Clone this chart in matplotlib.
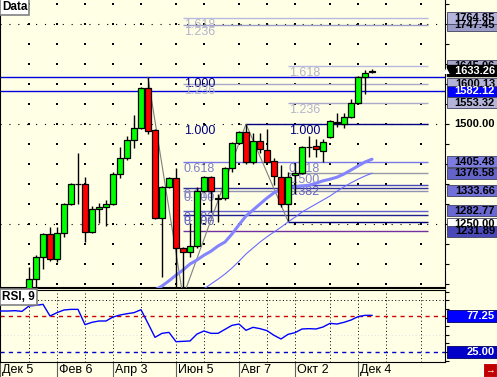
import matplotlib
matplotlib.use("Agg")
import matplotlib.pyplot as plt
import matplotlib.transforms as mtransforms
from matplotlib.patches import Rectangle

plt.rcParams['font.family'] = ['Liberation Sans', 'DejaVu Sans']

# weekly bars, week 0 = Dec 5
weeks = list(range(5, 55))
opens = [1080, 1112, 1167, 1225, 1162, 1227, 1300, 1350, 1350, 1230, 1287, 1292, 1300, 1375, 1415,
         1460, 1490, 1590, 1485, 1265, 1342, 1365, 1190, 1180, 1195, 1332, 1367, 1312, 1315, 1390,
         1452, 1480, 1405, 1457, 1435, 1407, 1367, 1300, 1372, 1377, 1442, 1445, 1432, 1467, 1502,
         1500, 1517, 1552, 1617, 1630]
highs = [1142, 1172, 1227, 1242, 1242, 1302, 1352, 1427, 1367, 1295, 1302, 1310, 1380, 1442, 1470,
         1522, 1592, 1617, 1487, 1345, 1367, 1390, 1192, 1252, 1342, 1370, 1370, 1325, 1393, 1455,
         1482, 1500, 1477, 1477, 1487, 1415, 1397, 1380, 1402, 1445, 1470, 1462, 1462, 1510, 1527,
         1527, 1562, 1620, 1635, 1638]
lows = [1070, 1085, 1137, 1157, 1155, 1217, 1298, 1300, 1205, 1227, 1252, 1245, 1298, 1365, 1410,
        1440, 1488, 1475, 1262, 1117, 1340, 1075, 1068, 1167, 1190, 1330, 1280, 1255, 1310, 1380,
        1450, 1400, 1400, 1427, 1402, 1347, 1292, 1257, 1325, 1375, 1417, 1417, 1405, 1465, 1492,
        1490, 1515, 1550, 1575, 1628]
closes = [1112, 1167, 1225, 1162, 1227, 1300, 1350, 1350, 1230, 1287, 1292, 1300, 1375, 1415, 1460,
          1490, 1590, 1482, 1265, 1342, 1365, 1190, 1180, 1195, 1332, 1367, 1332, 1315, 1390, 1452,
          1480, 1405, 1457, 1437, 1405, 1370, 1300, 1367, 1377, 1442, 1443, 1437, 1455, 1507, 1505,
          1517, 1552, 1617, 1628, 1633.26]

ma_slow_weeks = list(range(23, 55))
ma_slow = [1085, 1095, 1108, 1122, 1135, 1150, 1160, 1172, 1182, 1195, 1205, 1225, 1248, 1270, 1285,
           1300, 1315, 1328, 1337, 1340, 1343, 1345, 1347, 1352, 1358, 1362, 1367, 1375, 1385, 1395,
           1405, 1412]
ma_thin_weeks = list(range(30, 55))
ma_thin = [1088, 1100, 1112, 1125, 1140, 1157, 1175, 1190, 1205, 1218, 1230, 1242, 1255, 1267, 1280,
           1290, 1300, 1310, 1320, 1332, 1343, 1353, 1362, 1370, 1377]

zig_weeks = [22, 27, 36, 42]
zig_prices = [1617, 1068, 1500, 1257]

rsi_weeks = list(range(0, 55))
rsi = [84.5, 84.5, 84.5, 85.0, 84.0, 91.8, 92.7, 94.2, 77.3, 82.1, 86.0, 86.9, 86.9, 64.7, 68.1,
       70.0, 70.0, 75.8, 78.7, 80.6, 82.1, 86.4, 66.6, 46.3, 52.1, 53.5, 40.0, 40.5, 41.0, 51.1,
       55.5, 52.1, 52.1, 57.9, 63.7, 65.6, 56.5, 60.8, 58.9, 56.0, 49.2, 43.9, 50.6, 53.1, 58.4,
       58.9, 58.4, 61.3, 66.6, 65.6, 68.1, 71.4, 76.3, 78.2, 78.2]

# full-width horizontal lines
hl_prices = [1617.5, 1582.12]

# fibonacci level lines: price, start week, colour
fib_prices = [1764.85, 1747.45, 1645.06, 1600.13, 1553.32, 1500.00, 1405.48, 1376.58, 1347.10,
              1340.20, 1333.66, 1282.77, 1272.30, 1255.00, 1231.89]
fib_start = [27, 27, 42, 27, 42, 36, 27, 42, 42, 27, 27, 27, 27, 42, 27]
fib_colors = ['#b8b8e0', '#9c9cc8', '#b8b8e0', '#a8a8c8', '#a8a8c8', '#000080', '#7878e8', '#9898a8',
              '#4848b8', '#303098', '#9090b0', '#6060d0', '#202090', '#000080', '#7030a0']

fib_lab_weeks = [27, 27, 27, 27, 27, 27, 27, 27, 27, 27, 42, 42, 42, 42, 42, 42]
fib_lab_prices = [1764.85, 1747.45, 1617.5, 1600.13, 1500.0, 1405.48, 1340.2, 1333.66, 1282.77,
                  1272.3, 1645.06, 1553.32, 1500.0, 1405.48, 1376.58, 1347.1]
fib_lab_text = ['1.618', '1.236', '1.000', '1.236', '1.000', '0.618', '0.618', '0.500', '0.382',
                '0.500', '1.618', '1.236', '1.000', '0.618', '0.500', '0.382']
fib_lab_colors = ['#b4b4cc', '#b4b4cc', '#000080', '#b4b4cc', '#000080', '#8080c8', '#8080c8',
                  '#8080c8', '#6060c0', '#6060c0', '#b4b4cc', '#b4b4cc', '#000080', '#8080c8',
                  '#8080c8', '#6060c0']

# right-axis price boxes (drawn in this order)
box_prices = [1747.45, 1764.85, 1645.06, 1600.13, 1582.12, 1553.32, 1405.48, 1376.58, 1333.66,
              1282.77, 1250.00, 1231.89]
box_text = ['1747.45', '1764.85', '1645.06', '1600.13', '1582.12', '1553.32', '1405.48', '1376.58',
            '1333.66', '1282.77', '1250.00', '1231.89']
box_fc = ['#9c9cc8', '#b4b4dc', '#a8a8cc', '#b4b4d8', '#0000ff', '#b4b4d8', '#7c7ce0', '#6464c8',
          '#7070d8', '#6868d0', '#ffffff', '#4848b8']
box_tc = ['black', 'black', 'black', 'black', 'white', 'black', 'black', 'black', 'black', 'black',
          'black', 'black']
last_price = 1633.26

date_weeks = [0, 9, 17, 26, 35, 43, 52]
date_labels = ['Дек 5', 'Фев 6', 'Апр 3', 'Июн 5', 'Авг 7', 'Окт 2', 'Дек 4']
month_weeks = [5, 9, 13, 17, 21, 26, 30, 35, 39, 43, 48, 52, 56, 61]

rsi_high, rsi_low = 77.25, 25.00

BG = '#ffffe6'
W, H = 497, 377
xmin, xmax = 6 / 7, 451 / 7
pmin, pmax = 1090, 1810
rmin, rmax = 10.5, 115.0

fig = plt.figure(figsize=(W / 100, H / 100), dpi=100, facecolor=BG)


def fax(x0, y0, x1, y1):
    return fig.add_axes([x0 / W, 1 - y1 / H, (x1 - x0) / W, (y1 - y0) / H])


ax = fax(0, 0, 445, 288)
axr = fax(0, 290, 445, 362)
colp = fax(445, 0, 497, 288)
colr = fax(445, 290, 497, 362)

for a in (ax, axr):
    a.set_facecolor(BG)
    a.set_xlim(xmin, xmax)
    a.set_xticks([])
    a.set_yticks([])
    for s in a.spines.values():
        s.set_color('black')
ax.set_ylim(pmin, pmax)
axr.set_ylim(rmin, rmax)
ax.spines['top'].set_visible(False)
ax.spines['bottom'].set_linewidth(1.5)
for c in (colp, colr):
    c.set_facecolor(BG)
    c.set_xlim(0, 1)
    c.axis('off')
colp.set_ylim(pmin, pmax)
colr.set_ylim(rmin, rmax)

# right ticks
ax.yaxis.tick_right()
ax.set_yticks(range(1100, 1801, 50))
ax.tick_params(axis='y', direction='out', length=3, labelright=False, color='black')
axr.yaxis.tick_right()
axr.set_yticks([12.5 * i for i in range(1, 10)])
axr.tick_params(axis='y', direction='out', length=3, labelright=False, color='black')

# grid: dots at month / 50-level crossings, dotted rows at 250 levels
gx, gy = [], []
for m in month_weeks:
    for p in range(1100, 1801, 50):
        gx.append(m)
        gy.append(p)
ax.scatter(gx, gy, s=1.2, marker='s', c='black', linewidths=0, zorder=1)
for p in (1250, 1500, 1750):
    ax.axhline(p, color='black', lw=0.8, ls=(0, (1, 7)), zorder=1)

# fib lines
for p, s, c in zip(fib_prices, fib_start, fib_colors):
    ax.hlines(p, s, 62, colors=c, lw=1, zorder=2)
for p in hl_prices:
    ax.axhline(p, color='#0000dd', lw=1, zorder=2)
for w, p, t, c in zip(fib_lab_weeks, fib_lab_prices, fib_lab_text, fib_lab_colors):
    ax.annotate(t, (w, p), xytext=(1, -1), textcoords='offset pixels', color=c, fontsize=9,
                va='top', ha='left', zorder=2)

# zigzag
ax.plot(zig_weeks, zig_prices, color='#808080', lw=0.8, zorder=3)

# moving averages
ax.plot(ma_slow_weeks, ma_slow, color='#8484ff', lw=2.2, zorder=3, solid_capstyle='round')
ax.plot(ma_thin_weeks, ma_thin, color='#6a6aff', lw=0.8, zorder=3)

# candles
bw = 0.72
for w, o, h, l, c in zip(weeks, opens, highs, lows, closes):
    ax.vlines(w, l, h, color='black', lw=1, zorder=4)
    fc = '#00ff00' if c >= o else '#ff0000'
    ax.add_patch(Rectangle((w - bw / 2, min(o, c)), bw, abs(c - o), facecolor=fc,
                           edgecolor='black', lw=0.9, zorder=5))

ax.text(2 / 445, 1 - 1 / 288, 'Data', transform=ax.transAxes, va='top', ha='left', fontsize=8.5,
        weight='bold', zorder=10,
        bbox=dict(boxstyle='square,pad=0.15', fc='white', ec='#808080', lw=1.2))

# right price column
for p, t, fc, tc in zip(box_prices, box_text, box_fc, box_tc):
    colp.add_patch(Rectangle((0.03, p - 14), 0.97, 28, facecolor=fc, edgecolor='#404060', lw=0.6))
    colp.text(0.96, p, t, ha='right', va='center', fontsize=8, weight='bold', color=tc)
colp.text(0.96, 1500, '1500.00', ha='right', va='center', fontsize=8, weight='bold', color='black')
colp.add_patch(Rectangle((0.03, last_price - 14), 0.97, 28, facecolor='black', edgecolor='black'))
colp.text(0.96, last_price, '\u25b2 %.2f' % last_price, ha='right', va='center', fontsize=8,
          weight='bold', color='white')

# RSI panel
for m in month_weeks:
    axr.axvline(m, color='black', lw=0.7, ls=(0, (1, 2.5)), zorder=1)
axr.axhline(100, color='black', lw=0.7, ls=(0, (1, 2.5)), zorder=1)
axr.axhline(50, color='#e0e0e0', lw=0.7, ls=(0, (1, 2.5)), zorder=1)
axr.axhline(rsi_high, color='#cc0000', lw=1, ls=(0, (3, 3)), zorder=2)
axr.axhline(rsi_low, color='#0000cc', lw=1, ls=(0, (3, 3)), zorder=2)
axr.plot(rsi_weeks, rsi, color='#0000ff', lw=1, zorder=3)
axr.text(2 / 445, 1 - 1 / 72, 'RSI, 9', transform=axr.transAxes, va='top', ha='left', fontsize=8.5,
         weight='bold', zorder=10,
         bbox=dict(boxstyle='square,pad=0.15', fc='white', ec='#808080', lw=1.2))

for v, fc in zip((rsi_high, rsi_low), ('#0000ff', '#0000c8')):
    colr.add_patch(Rectangle((0.03, v - 8.5), 0.97, 17, facecolor=fc, edgecolor='#000060', lw=0.6))
    colr.text(0.96, v, '%.2f' % v, ha='right', va='center', fontsize=8, weight='bold',
              color='white')

# date axis
trans = mtransforms.blended_transform_factory(axr.transData, axr.transAxes)
for w, lab in zip(date_weeks, date_labels):
    xw = max(w, xmin)
    axr.plot([xw, xw], [0, -15 / 72], transform=trans, color='#606060', lw=0.8, clip_on=False)
    axr.annotate(lab, (xw, 0), xycoords=trans, xytext=(2, -2), textcoords='offset pixels',
                 va='top', ha='left', fontsize=9, annotation_clip=False)

# small icon bottom-right
fig.patches.append(Rectangle((483 / W, 0), 14 / W, 14 / H, transform=fig.transFigure,
                             facecolor='#c00000', edgecolor='white', lw=0.8))
fig.text(490 / W, 7 / H, '\u2192', color='white', ha='center', va='center', fontsize=7,
         weight='bold')

fig.savefig('out.png', dpi=100, facecolor=BG)
